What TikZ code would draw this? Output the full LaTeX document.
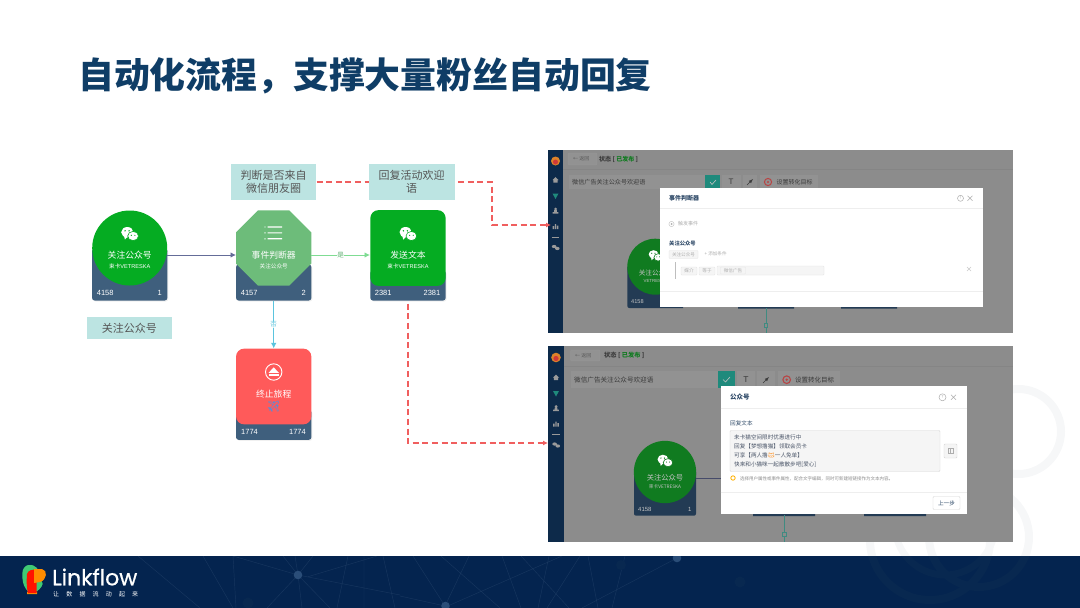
\documentclass[tikz,border=0pt]{standalone}
\usepackage{fontspec}
\usepackage{xcolor}
\usetikzlibrary{positioning, shapes.geometric, shadows, arrows.meta}
\setmainfont{Noto Sans CJK SC}
\newfontfamily\numfont{Liberation Sans}
\newfontfamily\logofont[FakeBold=0.6]{Poppins}
\newfontfamily\emojifont{Noto Emoji}
\newcommand{\fsize}[1]{\fontsize{#1}{#1}\selectfont}

\definecolor{titleblue}{HTML}{0F3D66}
\definecolor{footnavy}{HTML}{04244F}
\definecolor{footline}{HTML}{17365F}
\definecolor{footdot}{HTML}{2A4D78}
\definecolor{footring}{HTML}{082850}
\definecolor{bgring}{HTML}{F6F7F8}
\definecolor{notefill}{HTML}{BCE4E2}
\definecolor{notetext}{HTML}{555555}
\definecolor{barblue}{HTML}{3F5F7D}
\definecolor{wechatgreen}{HTML}{05AC22}
\definecolor{judgegreen}{HTML}{6DBC7A}
\definecolor{stopred}{HTML}{FF5A5A}
\definecolor{dashred}{HTML}{F05F5F}
\definecolor{linkpurple}{HTML}{646C98}
\definecolor{linkgreen}{HTML}{7FDC93}
\definecolor{linkblue}{HTML}{5BC4DE}
\definecolor{shotgrey}{HTML}{8C8C8C}
\definecolor{shotbtn}{HTML}{929292}
\definecolor{shotedge}{HTML}{9A9A9A}
\definecolor{shotrule}{HTML}{858585}
\definecolor{shotnavy}{HTML}{0D2A4A}
\definecolor{shotbar}{HTML}{233B54}
\definecolor{shotgreen}{HTML}{107B20}
\definecolor{shotteal}{HTML}{1F8A7C}
\definecolor{shotred}{HTML}{B84444}
\definecolor{shotink}{HTML}{3A3A3A}
\definecolor{dlgink}{HTML}{2F4A68}
\definecolor{dlgrule}{HTML}{EEEEEE}
\definecolor{dlggrey}{HTML}{AEAEAE}
\definecolor{dlgbox}{HTML}{F5F5F5}
\definecolor{dlgtext}{HTML}{4A5568}

\tikzset{
  pics/bubbles/.style={code={
    \fill[white] (-2.4,-0.8) ellipse (6.1 and 5.2);
    \fill[white] (-5.6,3) -- (-4.8,6.6) -- (-1.8,3.5) -- cycle;
    \fill[white,draw=#1,line width=0.6pt] (3.4,3) ellipse (5.4 and 4.6);
    \fill[#1] (-4.6,-2.2) circle (0.8) (-0.6,-2.2) circle (0.8) (1.6,2.3) circle (0.65) (5.2,2.3) circle (0.65);
  }},
  pics/sideicons/.style={code={
    \fill[shotedge] (-3,0) -- (0,-2.8) -- (3,0) -- (2.2,0) -- (2.2,2.6) -- (-2.2,2.6) -- (-2.2,0) -- cycle;
    \fill[shotteal] (-3,13.5) -- (3,13.5) -- (0,19) -- cycle;
    \fill[shotedge] (0,29) circle (1.5) (-2.8,33.5) rectangle (2.8,32) (-1.4,32) rectangle (1.4,30);
    \fill[shotedge] (-2.8,46) rectangle (-1.4,49) (-0.7,44) rectangle (0.7,49) (1.4,45.5) rectangle (2.8,49);
    \draw[shotedge,line width=0.3pt] (-3.8,57) -- (3.8,57);
    \fill[shotedge] (-1.4,66.5) ellipse (2.3 and 1.6) (1.8,68.5) ellipse (2.3 and 1.6);
  }}
}
\tikzset{
  note node/.style={fill=notefill,text=notetext,align=center,font=\fsize{11},inner sep=0pt},
  count bar/.style={fill=barblue,rounded corners=2.5pt,minimum width=75.3pt,anchor=south,inner sep=0pt,drop shadow={opacity=0.12,shadow xshift=1pt,shadow yshift=-1pt}},
  main square/.style={rounded corners=8pt,minimum width=75.3pt,minimum height=75.7pt,inner sep=0pt},
  flow name/.style={text=white,font=\fsize{8.8},inner sep=0pt},
  flow sub/.style={text=white,font=\fsize{5.6},inner sep=0pt},
  flow count/.style={text=white,font=\numfont\fsize{7.5},inner sep=0pt},
  flow link/.style={line width=0.9pt,-{Latex[length=5.5pt,width=5.5pt]}},
  link label/.style={fill=white,fill opacity=0.75,text opacity=1,font=\fsize{6.5},inner sep=0.5pt},
  dash line/.style={dashred,line width=1.5pt,dash pattern=on 6pt off 3.6pt},
  dash link/.style={dash line,-{Latex[length=5pt,width=5pt]}},
  ui text/.style={inner sep=0pt,anchor=west,text=shotink},
  ui button/.style={fill=shotbtn,draw=shotedge,line width=0.3pt,rounded corners=1pt},
  dlg text/.style={inner sep=0pt,anchor=west,text=dlgtext},
  dlg chip/.style={draw=dlgrule!70!black!30!white,fill=dlgbox,rounded corners=0.8pt,line width=0.3pt,text=dlggrey,inner sep=0pt,font=\fsize{4.6}}
}

\begin{document}
\begin{tikzpicture}[x=1pt,y=-1pt]
\useasboundingbox (0,0) rectangle (1080,608);

% background rings
\draw[bgring,line width=8pt] (1018.5,431.5) circle (42.5);
\draw[bgring,line width=8pt] (979,537) circle (50);
\draw[bgring,line width=8pt] (930,540) circle (60);
\draw[bgring,line width=7pt] (945,525) circle (50);

% footer band
\fill[footnavy] (0,556) rectangle (1080,608);
\begin{scope}
\clip (0,556) rectangle (1080,608);
\draw[footring,line width=8pt] (979,537) circle (50);
\draw[footring,line width=8pt] (930,540) circle (60);
\draw[footring,line width=7pt] (945,525) circle (50);
\draw[footline,line width=0.45pt]
  (138,556) -- (200,608) (203,556) -- (233,608) (233,556) -- (236,608)
  (233,556) -- (298,575) (298,575) -- (267,608) (298,575) -- (400,595)
  (298,575) -- (313,556) (298,575) -- (283,556) (295,556) -- (298,575)
  (298,575) -- (302,608) (298,575) -- (330,608) (348,556) -- (337,608)
  (377,556) -- (307,577) (364,556) -- (364,608) (383,556) -- (395,608)
  (400,596) -- (445,606) (413,556) -- (445,606) (441,556) -- (500,608)
  (469,556) -- (445,606) (502,556) -- (521,608) (521,556) -- (569,608)
  (549,556) -- (538,608) (580,556) -- (547,608) (588,556) -- (598,608)
  (625,556) -- (612,608) (450,605) -- (562,556) (677,558) -- (582,608);
\fill[footdot] (298,575) circle (4.3) (445.5,606) circle (4.3) (677,558) circle (4.3);
\fill[footring] (248,603) circle (5.5) (740,582) circle (5.5) (621,565) circle (5);
\end{scope}

% logo
\fill[orange!85!yellow] (27,590) rectangle (37,594) (27,592) arc[start angle=180,end angle=360,x radius=5,y radius=5] -- cycle;
\fill[green!45!teal!75!white] (22.3,574) .. controls (22.3,563) and (33,563) .. (37,568) -- (42.7,584) .. controls (40,592) and (30,596) .. (26,589) .. controls (23,585) and (22.3,580) .. (22.3,574) -- cycle;
\fill[red!85!orange] (27,574) .. controls (28,570) and (33,569) .. (36.7,570) -- (36.7,593) -- (28,593) .. controls (26.5,588) and (26.5,580) .. (27,574) -- cycle;
\fill[orange!90!yellow] (34,569) -- (42,569) .. controls (48,570) and (47,580) .. (40,582) -- (34,583) -- cycle;
\node[inner sep=0pt,anchor=west,text=white,font=\logofont\fsize{22}] (logotext) at (52,577) {Linkflow};
\node[inner sep=0pt,anchor=west,text=white,font=\fsize{6},text width=85pt] (logoslogan) at (53,594.5) {让\hfill 数\hfill 据\hfill 流\hfill 动\hfill 起\hfill 来};

% title
\node[inner sep=0pt,anchor=west,text=titleblue,font=\fsize{35.85}\bfseries] (pagetitle) at (78,76) {自动化流程，支撑大量粉丝自动回复};

% count bars under the flow nodes
\node[count bar,minimum height=52pt] (followbar) at (129.7,300.7) {};
\node[count bar,minimum height=36pt] (judgebar) at (273.7,300.7) {};
\node[count bar,minimum height=30pt] (sendbar) at (408,300.7) {};
\node[count bar,minimum height=30pt] (stopbar) at (273.7,440) {};

% flow nodes
\node[circle,fill=wechatgreen,minimum size=75pt,inner sep=0pt] (follow) at (129.7,248) {};
\node[regular polygon,regular polygon sides=8,fill=judgegreen,minimum size=81.5pt,inner sep=0pt] (judge) at (273.7,248) {};
\node[main square,fill=wechatgreen] (send) at (408,248) {};
\node[main square,fill=stopred] (stop) at (273.7,386.5) {};

\node[flow name] (followname) at (129.7,255.5) {关注公众号};
\node[flow sub] (followsub) at (129.7,266) {束卡{\numfont VETRESKA}};
\node[flow count,anchor=west] (followin) at (96.7,292.7) {4158};
\node[flow count,anchor=east] (followout) at (162,292.7) {1};
\pic at (129.7,233) {bubbles=wechatgreen};

\node[flow name] (judgename) at (273.7,255.5) {事件判断器};
\node[flow sub] (judgesub) at (273.7,266) {关注公众号};
\node[flow count,anchor=west] (judgein) at (240.7,292.7) {4157};
\node[flow count,anchor=east] (judgeout) at (306,292.7) {2};
\fill[white] (265,227) circle (0.7) (265,232.9) circle (0.7) (265,238.8) circle (0.7);
\fill[white] (267.5,226.4) rectangle (282,227.5) (267.5,232.3) rectangle (282,233.4) (267.5,238.2) rectangle (282,239.3);

\node[flow name] (sendname) at (408,255.5) {发送文本};
\node[flow sub] (sendsub) at (408,266) {束卡{\numfont VETRESKA}};
\node[flow count,anchor=west] (sendin) at (374.7,292.7) {2381};
\node[flow count,anchor=east] (sendout) at (440.5,292.7) {2381};
\pic at (408,233) {bubbles=wechatgreen};

\node[flow name] (stopname) at (273.7,394.3) {终止旅程};
\node[inner sep=0pt,text=linkblue!75!blue,font=\emojifont\fsize{11}] (stopplane) at (273.7,407) {✈};
\node[flow count,anchor=west] (stopin) at (241,431.7) {1774};
\node[flow count,anchor=east] (stopout) at (306,431.7) {1774};
\draw[white,line width=0.9pt] (273.7,372) circle (8.2);
\fill[white] (273.7,367.3) -- (278.8,372.8) -- (268.6,372.8) -- cycle;
\fill[white] (268.6,374) rectangle (278.8,376);

% notes
\node[note node,minimum width=85.5pt,minimum height=35.5pt] (judgenote) at (273.7,182.2) {判断是否来自\\[2pt]微信朋友圈};
\node[note node,minimum width=86pt,minimum height=35.5pt] (replynote) at (411.7,182.2) {回复活动欢迎\\[2pt]语};
\node[note node,minimum width=84.7pt,minimum height=22pt] (follownote) at (129.4,328.3) {关注公众号};

% flow links
\draw[flow link,linkpurple] (follow.center -| follow.east) ++(0,7) -- (236,255);
\draw[flow link,linkgreen] (311.3,255) -- node[link label,text=linkgreen!80!black] (yeslabel) {是} (370,255);
\draw[flow link,linkblue] (judgebar.south) -- node[link label,text=linkblue] (nolabel) {否} (stop.north);

% first screenshot
\fill[shotgrey] (548,150) rectangle (1012.5,332.5);
\fill[shotnavy] (548,150) rectangle (563,332.5);
\fill[orange!70!shotgrey] (555.5,161) circle (4.5);
\fill[red!60!shotgrey] (555.5,162) circle (2.5);
\pic at (555.5,180) {sideicons};
\draw[shotrule,line width=0.4pt] (563,168.7) -- (1012.5,168.7);
\draw[ui button] (568,153) rectangle (597,165);
\node[ui text,font=\fsize{5},text=shotink!60!shotgrey] (oneback) at (573,159) {← 返回};
\node[ui text,font=\fsize{6}\bfseries] (onestate) at (599,159) {状态 [ \textcolor{shotgreen}{已发布} ]};
\fill[shotbtn] (569,175) rectangle (705,189);
\node[ui text,font=\fsize{6.1}] (onename) at (572,182) {微信广告关注公众号欢迎语};
\fill[shotteal] (705,175) rectangle (720,189);
\draw[shotedge!60!white,line width=0.6pt] (710,182) -- (712,184.5) -- (716,180);
\fill[shotbtn] (722,175) rectangle (741,189);
\node[inner sep=0pt,text=shotink,font=\numfont\fsize{8}] (onetype) at (731,182) {T};
\fill[shotbtn] (743,175) rectangle (757,189);
\draw[shotink,line width=0.5pt,-latex] (747,185) -- (753,179);
\fill[shotbtn] (760,175) rectangle (818,189);
\draw[shotred,line width=1pt] (768,182) circle (3.6);
\fill[shotred] (768,182) circle (1.2);
\node[ui text,font=\fsize{6}] (onegoal) at (776.5,182) {设置转化目标};
\fill[shotbar] (627.3,266.7) -- (627.3,306) arc[start angle=180,end angle=90,radius=2] -- (683,308) -- (683,266.7) -- cycle;
\fill[shotbar] (738,300) rectangle (794,308.5) (841,300) rectangle (897,308.5);
\node[circle,fill=shotgreen,minimum size=56pt,inner sep=0pt] (onefollow) at (655.3,266.7) {};
\pic[scale=0.8] at (655.5,255) {bubbles=shotgreen};
\node[inner sep=0pt,text=shotedge!60!white,font=\fsize{6.6}] (onefollowname) at (655.3,273) {关注公众号};
\node[inner sep=0pt,text=shotedge!60!white,font=\numfont\fsize{4.4}] (onefollowsub) at (655.3,281.3) {VETRESKA};
\node[inner sep=0pt,anchor=west,text=shotedge!60!white,font=\numfont\fsize{5.6}] (onefollowin) at (631,302) {4158};
\draw[shotteal!70!shotgrey,line width=0.7pt] (766,308) -- (766,332.5);
\draw[shotteal!70!shotgrey,fill=shotgrey,line width=0.4pt] (764.5,323) rectangle (767.5,327);

% first dialog
\fill[white] (660,188) rectangle (982.7,307.3);
\draw[dlgrule,line width=0.4pt] (660,208.5) -- (982.7,208.5) (660,291) -- (982.7,291);
\node[dlg text,font=\fsize{6}\bfseries,text=dlgink] (onedlgtitle) at (669,198) {事件判断器};
\draw[dlggrey,line width=0.5pt] (960.5,198.3) circle (3);
\node[inner sep=0pt,text=dlggrey,font=\fsize{3.6}] (onedlghelp) at (960.5,198.3) {?};
\draw[dlggrey,line width=0.5pt] (967.5,195.8) -- (972.5,200.8) (972.5,195.8) -- (967.5,200.8);
\draw[dlgrule!80!black,line width=0.4pt] (671.5,224) circle (2.6);
\fill[dlggrey] (671.5,224) circle (1);
\node[dlg text,font=\fsize{5},text=dlggrey] (onedlgevent) at (678,224) {触发事件};
\node[dlg text,font=\fsize{5.3}\bfseries,text=dlgink] (onedlgname) at (669,243) {关注公众号};
\node[dlg chip,minimum width=29pt,minimum height=8pt] (onedlgchip) at (683.5,254.5) {关注公众号};
\node[dlg text,font=\fsize{4.6},text=dlggrey] (onedlgadd) at (704.5,254) {+ 添加条件};
\fill[dlgrule!80!black] (674.5,262) rectangle (675.8,279);
\node[dlg chip,minimum width=16pt,minimum height=8pt] (onedlgmedia) at (689,271) {媒介};
\node[dlg chip,minimum width=16pt,minimum height=8pt] (onedlgequal) at (707,271) {等于};
\node[dlg chip,minimum width=107pt,minimum height=9pt] (onedlgfield) at (770.5,270.5) {};
\node[dlg chip,minimum width=25pt,minimum height=7pt] (onedlgvalue) at (733,270.5) {微信广告};
\draw[dlgrule!85!black,line width=0.4pt] (967,267) -- (971,271) (971,267) -- (967,271);

% second screenshot
\fill[shotgrey] (548,346) rectangle (1012.5,542);
\fill[shotnavy] (548,346) rectangle (564,542);
\fill[orange!70!shotgrey] (556,357.5) circle (4.8);
\fill[red!60!shotgrey] (556,358.5) circle (2.6);
\pic at (556,377.5) {sideicons};
\draw[shotrule,line width=0.4pt] (564,365.7) -- (1012.5,365.7);
\draw[ui button] (570.5,350) rectangle (600,361);
\node[ui text,font=\fsize{5},text=shotink!60!shotgrey] (twoback) at (575,355.5) {← 返回};
\node[ui text,font=\fsize{6.2}\bfseries] (twostate) at (604,355.5) {状态 [ \textcolor{shotgreen}{已发布} ]};
\fill[shotbtn] (571,371) rectangle (718,388);
\node[ui text,font=\fsize{6.6}] (twoname) at (574,379.7) {微信广告关注公众号欢迎语};
\fill[shotteal] (718,371) rectangle (735,388);
\draw[shotedge!60!white,line width=0.6pt] (723,379.5) -- (725.5,382) -- (730,377);
\fill[shotbtn] (737,371) rectangle (755,388);
\node[inner sep=0pt,text=shotink,font=\numfont\fsize{8.5}] (twotype) at (746,379.7) {T};
\fill[shotbtn] (757,371) rectangle (775,388);
\draw[shotink,line width=0.5pt,-latex] (763,383) -- (769,377);
\fill[shotbtn] (778,371) rectangle (840,388);
\draw[shotred,line width=1.1pt] (786.7,379.7) circle (3.8);
\fill[shotred] (786.7,379.7) circle (1.3);
\node[ui text,font=\fsize{6.5}] (twogoal) at (795,379.7) {设置转化目标};
\fill[shotbar] (634,472) -- (634,513.7) arc[start angle=180,end angle=90,radius=2] -- (694,515.7) arc[start angle=90,end angle=0,radius=2] -- (696,472) -- cycle;
\fill[shotbar] (753,506) rectangle (815,516) (864,506) rectangle (926,516);
\node[circle,fill=shotgreen,minimum size=62.3pt,inner sep=0pt] (twofollow) at (665,472) {};
\draw[linkpurple!70!black,line width=0.6pt] (696,478.6) -- (721,478.6);
\pic[scale=0.88] at (665,460) {bubbles=shotgreen};
\node[inner sep=0pt,text=shotedge!60!white,font=\fsize{7.3}] (twofollowname) at (665,478) {关注公众号};
\node[inner sep=0pt,text=shotedge!60!white,font=\fsize{4.7}] (twofollowsub) at (665,487) {束卡VETRESKA};
\node[inner sep=0pt,anchor=west,text=shotedge!60!white,font=\numfont\fsize{6}] (twofollowin) at (638,509) {4158};
\node[inner sep=0pt,anchor=east,text=shotedge!60!white,font=\numfont\fsize{6}] (twofollowout) at (691.6,509) {1};
\draw[shotteal!70!shotgrey,line width=0.7pt] (784,515) -- (784,542);
\draw[shotteal!70!shotgrey,fill=shotgrey,line width=0.4pt] (782.3,532) rectangle (785.7,536.5);

% second dialog
\fill[white] (720.5,386) rectangle (967,513.5);
\draw[dlgrule,line width=0.4pt] (720.5,408.5) -- (967,408.5) (720.5,492) -- (967,492);
\node[dlg text,font=\fsize{6.5}\bfseries,text=dlgink] (twodlgtitle) at (730,397.3) {公众号};
\draw[dlggrey,line width=0.5pt] (942.5,397.3) circle (3.5);
\node[inner sep=0pt,text=dlggrey,font=\fsize{4}] (twodlghelp) at (942.5,397.3) {?};
\draw[dlggrey,line width=0.5pt] (951,394.8) -- (956,399.8) (956,394.8) -- (951,399.8);
\node[dlg text,font=\fsize{5.6},text=dlgink] (twodlgreply) at (730,423) {回复文本};
\draw[dlgrule!90!black,fill=dlgbox,line width=0.4pt,rounded corners=1pt] (730,430.5) rectangle (940,471.5);
\node[dlg text,font=\fsize{5.6}] (twolineone) at (734,437.5) {未卡猫空间限时优惠进行中};
\node[dlg text,font=\fsize{5.6}] (twolinetwo) at (734,446.5) {回复【梦想撸猫】领取会员卡};
\node[dlg text,font=\fsize{5.6}] (twolinethree) at (734,455.5) {可享【两人撸\textcolor{orange}{\emojifont 🐱}一人免单】};
\node[dlg text,font=\fsize{5.6}] (twolinefour) at (734,464.5) {快来和小猫咪一起散散步吧[爱心]};
\draw[dlgrule!90!black,fill=dlgbox,line width=0.4pt,rounded corners=1pt] (944,444) rectangle (957,458);
\draw[dlggrey,line width=0.4pt] (948,448.5) rectangle (953,453.5) (950.5,448.5) -- (950.5,453.5);
\draw[orange!60!yellow,line width=0.8pt] (733,478) circle (2.2);
\node[dlg text,font=\fsize{4.5},text=dlggrey!80!black] (twodlghint) at (740,478.5) {选择用户属性或事件属性，配合文字编辑，同时可新建短链接作为文本内容。};
\node[draw=dlgrule!90!black,line width=0.4pt,rounded corners=1pt,minimum width=27pt,minimum height=13pt,inner sep=0pt,text=dlgink,font=\fsize{5.6}] (twodlgback) at (946.5,503) {上一步};

% dashed links
\coordinate (shotone) at (551,225);
\coordinate (shottwo) at (548,443);
\coordinate (turnone) at (492,203);
\draw[dash line] (judgenote.east) -- (replynote.west);
\draw[dash link] ([xshift=3pt]replynote.east) -| (turnone) |- (shotone);
\draw[dash link] ([yshift=-3pt]sendbar.south) |- (shottwo);

\end{tikzpicture}
\end{document}
